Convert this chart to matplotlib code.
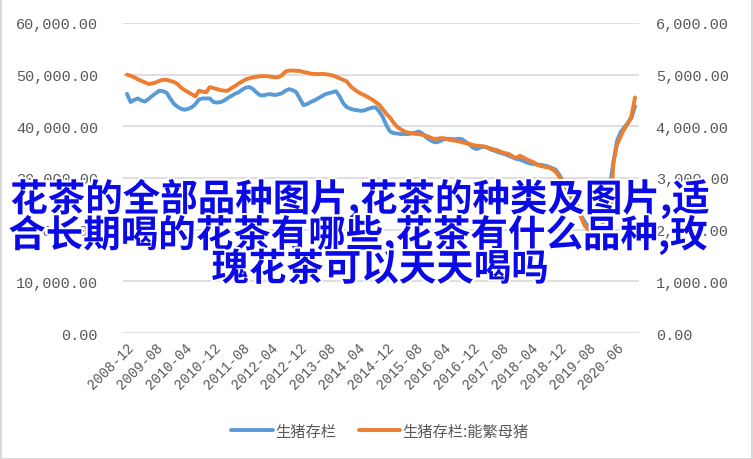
import matplotlib
matplotlib.use('Agg')
import matplotlib.pyplot as plt
import matplotlib.patheffects as pe
from matplotlib.patches import Rectangle
import pandas as pd

plt.rcParams['font.family'] = ['Noto Sans CJK SC', 'DejaVu Sans']

# monthly categories, 2008-12 .. 2019-12 then 2020-03 .. 2020-11 (two months missing)
months = ([str(p) for p in pd.period_range('2008-12', '2019-12', freq='M')] +
          [str(p) for p in pd.period_range('2020-03', '2020-11', freq='M')])

hogs = [
    46300, 44700, 45100, 45400, 45000, 44800, 45300, 45900, 46400, 46900, 46800, 46500,
    45400, 44400, 43800, 43400, 43200, 43400, 43700, 44300, 45200, 45400, 45400, 45400,
    44700, 44600, 44700, 45000, 45500, 45900, 46300, 46600, 47100, 47500, 47600, 47200,
    46500, 46000, 46000, 46200, 46200, 46050, 46200, 46400, 46900, 47200, 47000, 46600,
    45300, 44100, 44300, 44700, 45000, 45400, 45800, 46200, 46400, 46600, 46800, 45800,
    44500, 43700, 43400, 43200, 43100, 43000, 43100, 43400, 43600, 43700, 42900, 41800,
    40200, 39000, 38700, 38600, 38500, 38500, 38500, 38600, 38800, 39000, 38600, 37900,
    37400, 37000, 36900, 37200, 37500, 37600, 37550, 37500, 37600, 37500, 37000, 36500,
    35900, 35600, 35900, 36100, 35900, 35500, 35300, 35000, 34800, 34600, 34300, 34000,
    33700, 33600, 33300, 33000, 32800, 32700, 32600, 32500, 32400, 32200, 31900, 31600,
    30600, 29300, 28000, 26600, 25300, 24000, 22800, 21600, 20600, 19800, 19300, 19500,
    21000, 24500, 28500, 33000, 37200, 38900, 39800, 40700, 41600, 43900,
]

sows = [
    5000, 4980, 4950, 4910, 4880, 4850, 4820, 4830, 4850, 4880, 4900, 4900,
    4880, 4860, 4820, 4750, 4700, 4660, 4620, 4580, 4690, 4670, 4660, 4760,
    4740, 4720, 4700, 4690, 4690, 4740, 4780, 4830, 4870, 4910, 4930, 4950,
    4960, 4970, 4970, 4970, 4960, 4950, 4950, 4990, 5060, 5080, 5080, 5075,
    5070, 5050, 5040, 5020, 5015, 5010, 5015, 5010, 5000, 4985, 4960, 4930,
    4900, 4870, 4780, 4720, 4670, 4630, 4600, 4560, 4520, 4470, 4420, 4330,
    4240, 4170, 4070, 3990, 3940, 3900, 3880, 3870, 3855, 3850, 3835, 3820,
    3790, 3760, 3760, 3770, 3770, 3750, 3730, 3725, 3710, 3690, 3675, 3660,
    3640, 3625, 3620, 3610, 3590, 3570, 3550, 3530, 3500, 3480, 3465, 3420,
    3385, 3430, 3400, 3360, 3330, 3300, 3250, 3230, 3215, 3205, 3170, 3120,
    3020, 2900, 2800, 2680, 2560, 2450, 2240, 2080, 2000, 1960, 1950, 1970,
    2000, 2040, 2080, 3300, 3650, 3800, 3950, 4050, 4200, 4560,
]

left_ticks = [0, 10000, 20000, 30000, 40000, 50000, 60000]
right_ticks = [0, 1000, 2000, 3000, 4000, 5000, 6000]
label_months = ['2008-12', '2009-08', '2010-04', '2010-12', '2011-08', '2012-04',
                '2012-12', '2013-08', '2014-04', '2014-12', '2015-08', '2016-04',
                '2016-12', '2017-08', '2018-04', '2018-12', '2019-08', '2020-06']

title_lines = ['花茶的全部品种图片,花茶的种类及图片,适',
               '合长期喝的花茶有哪些,花茶有什么品种,玫',
               '瑰花茶可以天天喝吗']

fig = plt.figure(figsize=(7.53, 4.6), dpi=100)
ax = fig.add_axes([123/753, 1-334/460, (639-123)/753, (334-24)/460])
ax2 = ax.twinx()

x = list(range(len(months)))
l1, = ax.plot(x, hogs, color='#5b9bd5', lw=2.8, solid_capstyle='round', label='生猪存栏')
l2, = ax2.plot(x, sows, color='#ed7d31', lw=2.8, solid_capstyle='round', label='生猪存栏:能繁母猪')

ax.set_xlim(-1.1, len(months) + 0.1)
ax.set_ylim(0, 60000)
ax2.set_ylim(0, 6000)
ax.set_yticks(left_ticks)
ax2.set_yticks(right_ticks)
ax.set_yticklabels(['{:,.2f}'.format(v) for v in left_ticks])
ax2.set_yticklabels(['{:,.2f}'.format(v) for v in right_ticks])

ax.set_xticks([months.index(m) for m in label_months])
ax.set_xticklabels(label_months, rotation=45, ha='right', va='top', rotation_mode='anchor')

for a in (ax, ax2):
    for s in a.spines.values():
        s.set_visible(False)
ax.grid(axis='y', color='#d9d9d9', lw=1.2)
ax.set_axisbelow(True)
ax.tick_params(axis='y', length=0, pad=18, labelsize=11, labelcolor='#595959')
ax2.tick_params(axis='y', length=0, pad=12, labelsize=11, labelcolor='#595959')
ax.tick_params(axis='x', length=0, pad=5, labelsize=10, labelcolor='#595959')
for lab in ax.get_yticklabels() + ax2.get_yticklabels() + ax.get_xticklabels():
    lab.set_family('Liberation Mono')

fig.legend(handles=[l1, l2], loc='center', bbox_to_anchor=(380/753, 1-432/460),
           ncol=2, frameon=False, fontsize=11, handlelength=2.7, columnspacing=1.5,
           handletextpad=0.15, labelcolor='#595959')

fig.patches.append(Rectangle((0.001, 0.001), 0.998, 0.998, transform=fig.transFigure,
                             fill=False, edgecolor='#d9d9d9', lw=1.5))

for txt, cx, cy in zip(title_lines, [360, 358, 380], [200, 236, 270]):
    fig.text(cx/753, 1-cy/460, txt, ha='center', va='center', fontsize=27,
             fontweight='bold', color='#0a0ae6',
             path_effects=[pe.withStroke(linewidth=3, foreground='white')])

fig.savefig('out.png', dpi=100)
